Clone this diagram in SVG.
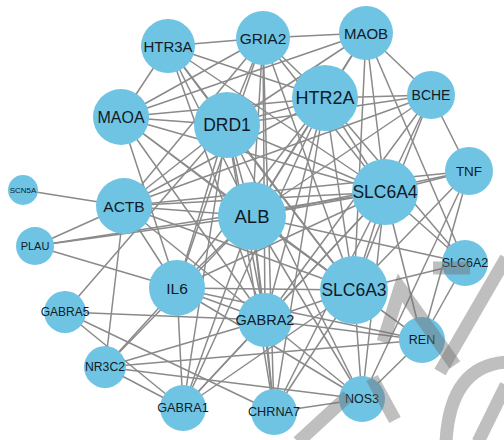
<svg xmlns="http://www.w3.org/2000/svg" width="504" height="440" viewBox="0 0 504 440">
<style>
.e line{stroke:#8a8a8a;stroke-width:1.5}
.n circle{fill:#6fc4e4}
.n text{font-family:"Liberation Sans",Arial,sans-serif;fill:#111a26;text-anchor:middle;dominant-baseline:central}
.wm{fill:none;stroke:#707070;stroke-opacity:0.45;stroke-width:13}
</style>
<rect width="504" height="440" fill="#ffffff"/>
<g id="edges" class="e">
<line x1="168" y1="46" x2="263" y2="38"/>
<line x1="168" y1="46" x2="121" y2="117"/>
<line x1="168" y1="46" x2="227" y2="125"/>
<line x1="168" y1="46" x2="325" y2="98"/>
<line x1="168" y1="46" x2="385" y2="192"/>
<line x1="168" y1="46" x2="354" y2="290"/>
<line x1="168" y1="46" x2="252" y2="216"/>
<line x1="168" y1="46" x2="265" y2="320"/>
<line x1="263" y1="38" x2="366" y2="33"/>
<line x1="263" y1="38" x2="325" y2="98"/>
<line x1="263" y1="38" x2="227" y2="125"/>
<line x1="263" y1="38" x2="121" y2="117"/>
<line x1="263" y1="38" x2="252" y2="216"/>
<line x1="263" y1="38" x2="385" y2="192"/>
<line x1="263" y1="38" x2="354" y2="290"/>
<line x1="263" y1="38" x2="124" y2="206"/>
<line x1="263" y1="38" x2="265" y2="320"/>
<line x1="263" y1="38" x2="177" y2="288"/>
<line x1="263" y1="38" x2="274" y2="412"/>
<line x1="366" y1="33" x2="325" y2="98"/>
<line x1="366" y1="33" x2="227" y2="125"/>
<line x1="366" y1="33" x2="431" y2="95"/>
<line x1="366" y1="33" x2="385" y2="192"/>
<line x1="366" y1="33" x2="354" y2="290"/>
<line x1="366" y1="33" x2="252" y2="216"/>
<line x1="366" y1="33" x2="465" y2="263"/>
<line x1="366" y1="33" x2="121" y2="117"/>
<line x1="325" y1="98" x2="431" y2="95"/>
<line x1="325" y1="98" x2="227" y2="125"/>
<line x1="325" y1="98" x2="121" y2="117"/>
<line x1="325" y1="98" x2="385" y2="192"/>
<line x1="325" y1="98" x2="354" y2="290"/>
<line x1="325" y1="98" x2="252" y2="216"/>
<line x1="325" y1="98" x2="265" y2="320"/>
<line x1="325" y1="98" x2="177" y2="288"/>
<line x1="325" y1="98" x2="124" y2="206"/>
<line x1="325" y1="98" x2="274" y2="412"/>
<line x1="325" y1="98" x2="465" y2="263"/>
<line x1="325" y1="98" x2="183" y2="408"/>
<line x1="431" y1="95" x2="469" y2="171"/>
<line x1="431" y1="95" x2="385" y2="192"/>
<line x1="431" y1="95" x2="252" y2="216"/>
<line x1="431" y1="95" x2="227" y2="125"/>
<line x1="431" y1="95" x2="354" y2="290"/>
<line x1="431" y1="95" x2="124" y2="206"/>
<line x1="431" y1="95" x2="265" y2="320"/>
<line x1="121" y1="117" x2="227" y2="125"/>
<line x1="121" y1="117" x2="252" y2="216"/>
<line x1="121" y1="117" x2="385" y2="192"/>
<line x1="121" y1="117" x2="354" y2="290"/>
<line x1="121" y1="117" x2="265" y2="320"/>
<line x1="121" y1="117" x2="177" y2="288"/>
<line x1="227" y1="125" x2="252" y2="216"/>
<line x1="227" y1="125" x2="385" y2="192"/>
<line x1="227" y1="125" x2="354" y2="290"/>
<line x1="227" y1="125" x2="124" y2="206"/>
<line x1="227" y1="125" x2="177" y2="288"/>
<line x1="227" y1="125" x2="265" y2="320"/>
<line x1="227" y1="125" x2="183" y2="408"/>
<line x1="227" y1="125" x2="65" y2="312"/>
<line x1="227" y1="125" x2="362" y2="399"/>
<line x1="227" y1="125" x2="274" y2="412"/>
<line x1="469" y1="171" x2="385" y2="192"/>
<line x1="469" y1="171" x2="252" y2="216"/>
<line x1="469" y1="171" x2="124" y2="206"/>
<line x1="469" y1="171" x2="422" y2="340"/>
<line x1="469" y1="171" x2="362" y2="399"/>
<line x1="469" y1="171" x2="354" y2="290"/>
<line x1="124" y1="206" x2="23" y2="190"/>
<line x1="124" y1="206" x2="35" y2="246"/>
<line x1="124" y1="206" x2="252" y2="216"/>
<line x1="124" y1="206" x2="385" y2="192"/>
<line x1="124" y1="206" x2="354" y2="290"/>
<line x1="124" y1="206" x2="177" y2="288"/>
<line x1="124" y1="206" x2="105" y2="367"/>
<line x1="124" y1="206" x2="265" y2="320"/>
<line x1="252" y1="216" x2="385" y2="192"/>
<line x1="252" y1="216" x2="354" y2="290"/>
<line x1="252" y1="216" x2="177" y2="288"/>
<line x1="252" y1="216" x2="265" y2="320"/>
<line x1="252" y1="216" x2="35" y2="246"/>
<line x1="252" y1="216" x2="422" y2="340"/>
<line x1="252" y1="216" x2="362" y2="399"/>
<line x1="252" y1="216" x2="274" y2="412"/>
<line x1="252" y1="216" x2="183" y2="408"/>
<line x1="252" y1="216" x2="105" y2="367"/>
<line x1="252" y1="216" x2="465" y2="263"/>
<line x1="385" y1="192" x2="354" y2="290"/>
<line x1="385" y1="192" x2="465" y2="263"/>
<line x1="385" y1="192" x2="177" y2="288"/>
<line x1="385" y1="192" x2="265" y2="320"/>
<line x1="385" y1="192" x2="35" y2="246"/>
<line x1="385" y1="192" x2="362" y2="399"/>
<line x1="385" y1="192" x2="274" y2="412"/>
<line x1="385" y1="192" x2="422" y2="340"/>
<line x1="385" y1="192" x2="183" y2="408"/>
<line x1="35" y1="246" x2="177" y2="288"/>
<line x1="177" y1="288" x2="265" y2="320"/>
<line x1="177" y1="288" x2="105" y2="367"/>
<line x1="177" y1="288" x2="354" y2="290"/>
<line x1="177" y1="288" x2="422" y2="340"/>
<line x1="177" y1="288" x2="362" y2="399"/>
<line x1="177" y1="288" x2="183" y2="408"/>
<line x1="65" y1="312" x2="265" y2="320"/>
<line x1="65" y1="312" x2="183" y2="408"/>
<line x1="65" y1="312" x2="274" y2="412"/>
<line x1="265" y1="320" x2="354" y2="290"/>
<line x1="265" y1="320" x2="183" y2="408"/>
<line x1="265" y1="320" x2="274" y2="412"/>
<line x1="265" y1="320" x2="362" y2="399"/>
<line x1="265" y1="320" x2="422" y2="340"/>
<line x1="265" y1="320" x2="105" y2="367"/>
<line x1="354" y1="290" x2="465" y2="263"/>
<line x1="354" y1="290" x2="422" y2="340"/>
<line x1="354" y1="290" x2="362" y2="399"/>
<line x1="354" y1="290" x2="274" y2="412"/>
<line x1="354" y1="290" x2="183" y2="408"/>
<line x1="465" y1="263" x2="422" y2="340"/>
<line x1="422" y1="340" x2="362" y2="399"/>
<line x1="422" y1="340" x2="105" y2="367"/>
<line x1="105" y1="367" x2="183" y2="408"/>
<line x1="105" y1="367" x2="362" y2="399"/>
<line x1="274" y1="412" x2="362" y2="399"/>
</g>
<g id="n-HTR3A" class="n"><circle cx="168" cy="46" r="27"/><text x="168" y="46" font-size="15">HTR3A</text></g>
<g id="n-GRIA2" class="n"><circle cx="263" cy="38" r="27"/><text x="263" y="38" font-size="15.5">GRIA2</text></g>
<g id="n-MAOB" class="n"><circle cx="366" cy="33" r="27"/><text x="366" y="33" font-size="15">MAOB</text></g>
<g id="n-HTR2A" class="n"><circle cx="325" cy="98" r="33"/><text x="325" y="98" font-size="18">HTR2A</text></g>
<g id="n-BCHE" class="n"><circle cx="431" cy="95" r="24"/><text x="431" y="95" font-size="14">BCHE</text></g>
<g id="n-MAOA" class="n"><circle cx="121" cy="117" r="28"/><text x="121" y="117" font-size="16">MAOA</text></g>
<g id="n-DRD1" class="n"><circle cx="227" cy="125" r="33"/><text x="227" y="125" font-size="17.5">DRD1</text></g>
<g id="n-TNF" class="n"><circle cx="469" cy="171" r="24"/><text x="469" y="171" font-size="13.5">TNF</text></g>
<g id="n-SCN5A" class="n"><circle cx="23" cy="190" r="15"/><text x="23" y="190" font-size="8">SCN5A</text></g>
<g id="n-ACTB" class="n"><circle cx="124" cy="206" r="28"/><text x="124" y="206" font-size="15.5">ACTB</text></g>
<g id="n-ALB" class="n"><circle cx="252" cy="216" r="34"/><text x="252" y="216" font-size="18.5">ALB</text></g>
<g id="n-SLC6A4" class="n"><circle cx="385" cy="192" r="33"/><text x="385" y="192" font-size="17.5">SLC6A4</text></g>
<g id="n-PLAU" class="n"><circle cx="35" cy="246" r="19"/><text x="35" y="246" font-size="11">PLAU</text></g>
<g id="n-IL6" class="n"><circle cx="177" cy="288" r="28"/><text x="177" y="288" font-size="15.5">IL6</text></g>
<g id="n-GABRA5" class="n"><circle cx="65" cy="312" r="21"/><text x="65" y="312" font-size="12">GABRA5</text></g>
<g id="n-GABRA2" class="n"><circle cx="265" cy="320" r="27"/><text x="265" y="320" font-size="14.5">GABRA2</text></g>
<g id="n-SLC6A3" class="n"><circle cx="354" cy="290" r="34"/><text x="354" y="290" font-size="17.5">SLC6A3</text></g>
<g id="n-SLC6A2" class="n"><circle cx="465" cy="263" r="23"/><text x="465" y="263" font-size="12.5">SLC6A2</text></g>
<g id="n-REN" class="n"><circle cx="422" cy="340" r="23"/><text x="422" y="340" font-size="12.5">REN</text></g>
<g id="n-NR3C2" class="n"><circle cx="105" cy="367" r="21"/><text x="105" y="367" font-size="12.2">NR3C2</text></g>
<g id="n-GABRA1" class="n"><circle cx="183" cy="408" r="23"/><text x="183" y="408" font-size="12.7">GABRA1</text></g>
<g id="n-CHRNA7" class="n"><circle cx="274" cy="412" r="23"/><text x="274" y="412" font-size="12.7">CHRNA7</text></g>
<g id="n-NOS3" class="n"><circle cx="362" cy="399" r="23"/><text x="362" y="399" font-size="12.5">NOS3</text></g>
<g id="watermark">
<path class="wm" d="M383 342 L400 288 L455 365"/>
<path class="wm" d="M440 372 L506 258"/>
<path class="wm" d="M433 268 L470 268"/>
<path class="wm" d="M506 362 Q450 366 446 442"/>
<path class="wm" d="M478 442 L506 385"/>
<path class="wm" d="M298 442 L348 396"/>
<path class="wm" d="M372 378 L395 420"/>
</g>
</svg>
